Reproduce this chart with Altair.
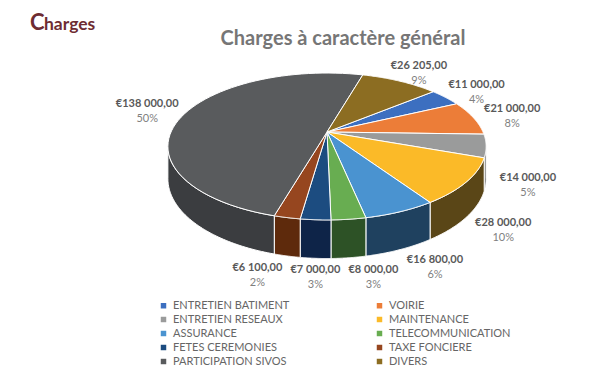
import math
import altair as alt
import pandas as pd

# ---- data ----
categories = ["ENTRETIEN BATIMENT", "VOIRIE", "ENTRETIEN RESEAUX", "MAINTENANCE",
              "ASSURANCE", "TELECOMMUNICATION", "FETES CEREMONIES", "TAXE FONCIERE",
              "PARTICIPATION SIVOS", "DIVERS"]
amounts = [11000, 21000, 14000, 28000, 16800, 8000, 7000, 6100, 138000, 26205]

top_colors = ["#3c6fc0", "#ec7d38", "#9a9b9b", "#fbba28", "#4a93d0",
              "#68ad51", "#1c4c80", "#96461f", "#595b5d", "#8c6d22"]
wall_colors = ["#22417a", "#8a4516", "#5e5f60", "#5a4617", "#1f415f",
               "#2d5226", "#0e2448", "#5e2a0c", "#3b3d40", "#5a4512"]

# ---- layout constants (chart pixels) ----
W, H = 591, 357
CX, CY = 319, 124        # apex of the pie (perspective centre)
RH, RV = 156, 70.6       # horizontal / vertical radius
Q = 0.197                # perspective strength
DEPTH = 31               # side wall height
START = math.radians(50) # first slice start, clockwise from 12 o'clock
N = 60                   # points per arc
LRX, LRY = 197, 82       # label ring
GAP = 58                 # min horizontal distance between bottom labels
FONT = "Lato"

total = sum(amounts)


def euro(v):
    s = f"{v:,.2f}".replace(",", " ").replace(".", ",")
    return "€" + s


df = pd.DataFrame({
    "cat": categories,
    "value": amounts,
    "idx": list(range(len(categories))),
    "amount_label": [euro(v) for v in amounts],
    "pct_label": [f"{round(v / total * 100)}%" for v in amounts],
})

# legend fills column by column: interleave so that it reads row by row
legend_order = [categories[i] for i in list(range(0, 10, 2)) + list(range(1, 10, 2))]
legend_colors = [top_colors[categories.index(c)] for c in legend_order]

xenc = alt.X("px:Q", scale=alt.Scale(domain=[0, W], nice=False, zero=False), axis=None)
yenc = alt.Y("py:Q", scale=alt.Scale(domain=[0, H], nice=False, zero=False, reverse=True), axis=None)

base = (
    alt.Chart(df)
    .transform_joinaggregate(total="sum(value)")
    .transform_window(cum="sum(value)", sort=[alt.SortField("idx")], frame=[None, 0])
    .transform_calculate(a0=f"{START} + 2*PI*(datum.cum - datum.value)/datum.total")
    .transform_calculate(a1=f"{START} + 2*PI*datum.cum/datum.total")
)

SIL0 = f"(PI/2 + asin({Q}))"
SIL1 = f"(3*PI/2 - asin({Q}))"

# ---- side walls (visible front part only) ----
walls = (
    base.transform_filter(f"datum.a1 > {SIL0} && datum.a0 < {SIL1}")
    .transform_calculate(w0=f"max(datum.a0, {SIL0})")
    .transform_calculate(w1=f"max(min(datum.a1, {SIL1}), datum.w0)")
    .transform_calculate(steps=f"sequence(0, {2 * N + 3})")
    .transform_flatten(["steps"], as_=["k"])
    .transform_calculate(
        ang=f"datum.k <= {N} ? datum.w0 + (datum.w1 - datum.w0)*datum.k/{N} : "
            f"(datum.k <= {2 * N + 1} ? datum.w1 - (datum.w1 - datum.w0)*(datum.k - {N + 1})/{N} : datum.w0)"
    )
    .transform_calculate(low=f"datum.k > {N} && datum.k <= {2 * N + 1}")
    .transform_calculate(s=f"1/(1 + {Q}*cos(datum.ang))")
    .transform_calculate(px=f"{CX} + {RH}*sin(datum.ang)*datum.s")
    .transform_calculate(py=f"{CY} - {RV}*cos(datum.ang)*datum.s + (datum.low ? {DEPTH}*datum.s : 0)")
    .mark_line(stroke="white", strokeWidth=1, strokeJoin="round")
    .encode(
        x=xenc, y=yenc,
        order=alt.Order("k:Q"),
        fill=alt.Fill("cat:N", scale=alt.Scale(domain=categories, range=wall_colors), legend=None),
    )
)

# ---- top faces ----
tops = (
    base.transform_calculate(steps=f"sequence(0, {N + 3})")
    .transform_flatten(["steps"], as_=["k"])
    .transform_calculate(ang=f"datum.a0 + (datum.a1 - datum.a0)*(datum.k - 1)/{N}")
    .transform_calculate(edge=f"datum.k >= 1 && datum.k <= {N + 1}")
    .transform_calculate(s=f"1/(1 + {Q}*cos(datum.ang))")
    .transform_calculate(px=f"datum.edge ? {CX} + {RH}*sin(datum.ang)*datum.s : {CX}")
    .transform_calculate(py=f"datum.edge ? {CY} - {RV}*cos(datum.ang)*datum.s : {CY}")
    .mark_line(stroke="white", strokeWidth=1, strokeJoin="round", filled=True)
    .encode(
        x=xenc, y=yenc,
        order=alt.Order("k:Q"),
        fill=alt.Fill(
            "cat:N",
            scale=alt.Scale(domain=legend_order, range=legend_colors),
            legend=alt.Legend(
                title=None, orient="none", legendX=150, legendY=292,
                columns=2, columnPadding=84, rowPadding=2,
                symbolType="square", symbolSize=30, symbolStrokeWidth=0,
                labelFont=FONT, labelFontSize=11, labelColor="#666666",
                labelLimit=200,
            ),
        ),
    )
)

# ---- data labels ----
labels = (
    base.transform_calculate(mid="(datum.a0 + datum.a1)/2")
    .transform_calculate(s=f"1/(1 + {Q}*cos(datum.mid))")
    .transform_calculate(nx=f"{CX} + {LRX}*sin(datum.mid)*datum.s")
    .transform_calculate(
        ny=f"{CY} - {LRY}*cos(datum.mid)*datum.s + (cos(datum.mid) < 0 ? {DEPTH}*datum.s + 5 : 0)")
    .transform_calculate(bottom="cos(datum.mid) < -0.7")
    # sweep 1: push leftwards (clockwise order)
    .transform_window(rn="row_number()", groupby=["bottom"], sort=[alt.SortField("idx")])
    .transform_calculate(key1=f"datum.nx + datum.rn*{GAP}")
    .transform_window(cmin="min(key1)", groupby=["bottom"], sort=[alt.SortField("idx")], frame=[None, 0])
    # sweep 2: push rightwards (counter-clockwise order)
    .transform_window(rr="row_number()", groupby=["bottom"], sort=[alt.SortField("idx", order="descending")])
    .transform_calculate(key2=f"datum.nx - datum.rr*{GAP}")
    .transform_window(cmax="max(key2)", groupby=["bottom"],
                      sort=[alt.SortField("idx", order="descending")], frame=[None, 0])
    .transform_calculate(
        px=f"datum.bottom ? ((datum.cmin - datum.rn*{GAP}) + (datum.cmax + datum.rr*{GAP}))/2 : datum.nx")
    .transform_calculate(py="datum.ny")
)
value_text = labels.mark_text(font=FONT, fontSize=11, fontWeight="bold", color="#595959", dy=-7).encode(
    x=xenc, y=yenc, text="amount_label:N")
pct_text = labels.mark_text(font=FONT, fontSize=11, color="#7f7f7f", dy=8).encode(
    x=xenc, y=yenc, text="pct_label:N")

# ---- headings ----
head_df = pd.DataFrame({"t": ["C"], "r": ["harges"], "title": ["Charges à caractère général"]})
head_c = alt.Chart(head_df).mark_text(
    font=FONT, fontSize=22, fontWeight="bold", color="#6e2c32", align="left", baseline="alphabetic"
).encode(x=alt.value(22), y=alt.value(22), text="t:N")
head_r = alt.Chart(head_df).mark_text(
    font=FONT, fontSize=17.5, fontWeight="bold", color="#6e2c32", align="left", baseline="alphabetic"
).encode(x=alt.value(36), y=alt.value(22), text="r:N")
title = alt.Chart(head_df).mark_text(
    font=FONT, fontSize=20, fontWeight="bold", color="#767676", align="center", baseline="alphabetic"
).encode(x=alt.value(335), y=alt.value(37), text="title:N")

chart = (
    alt.layer(walls, tops, value_text, pct_text, head_c, head_r, title)
    .resolve_scale(fill="independent")
    .properties(width=W, height=H, padding=0, autosize=alt.AutoSizeParams(type="none"))
    .configure_view(stroke=None)
)

chart.save("out.html", embed_options={"renderer": "svg", "actions": False})
